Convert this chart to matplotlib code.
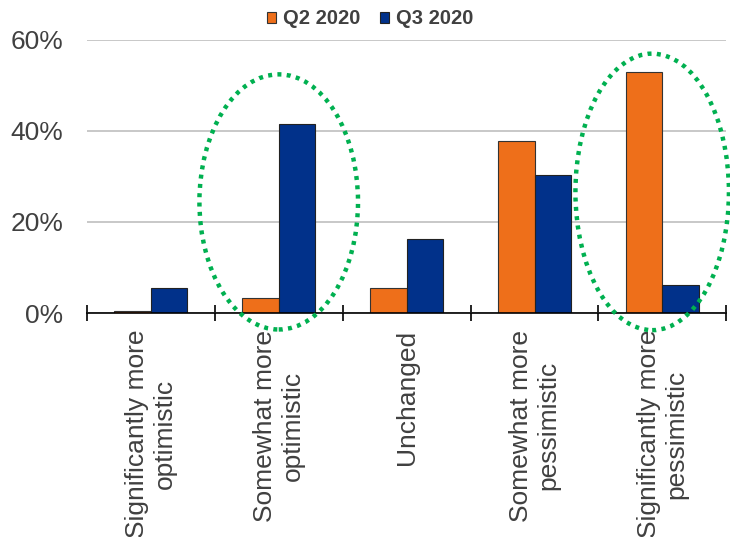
import matplotlib.pyplot as plt
import numpy as np
from matplotlib.patches import Ellipse

plt.rcParams['font.family'] = ['Liberation Sans', 'DejaVu Sans']

categories = ['Significantly more\noptimistic', 'Somewhat more\noptimistic', 'Unchanged',
              'Somewhat more\npessimistic', 'Significantly more\npessimistic']
q2_2020 = [0.5, 3.2, 5.4, 37.7, 53.0]
q3_2020 = [5.6, 41.5, 16.3, 30.3, 6.1]
series_names = ['Q2 2020', 'Q3 2020']
yticks = [0, 20, 40, 60]

orange = '#EE6F1A'
blue = '#01318A'
text_grey = '#404040'

fig = plt.figure(figsize=(7.3, 5.37), dpi=100)
ax = fig.add_axes([0.119, 0.417, 0.876, 0.509])

x = np.arange(len(categories))
w = 0.285
ax.bar(x - w / 2, q2_2020, w, color=orange, edgecolor='#333333', linewidth=0.8, label=series_names[0], zorder=3)
ax.bar(x + w / 2, q3_2020, w, color=blue, edgecolor='#222222', linewidth=0.8, label=series_names[1], zorder=3)

ax.set_xlim(-0.5, len(categories) - 0.5)
ax.set_ylim(0, 60)
ax.set_yticks(yticks)
ax.set_yticklabels([f'{t}%' for t in yticks], fontsize=19, color=text_grey)
ax.tick_params(axis='y', length=0, pad=17)
ax.yaxis.grid(True, color='#BFBFBF', linewidth=1.2, zorder=0)

# category labels at centres, ticks at boundaries
ax.set_xticks(x)
ax.set_xticklabels(categories, rotation=90, fontsize=19, color=text_grey, va='top', ha='center',
                   multialignment='center')
ax.tick_params(axis='x', which='major', length=0, pad=12)
ax.set_xticks(np.arange(-0.5, len(categories)), minor=True)
ax.tick_params(axis='x', which='minor', length=12, direction='inout', width=1.2, color='black')

for s in ['top', 'right', 'left']:
    ax.spines[s].set_visible(False)
ax.spines['bottom'].set_color('black')
ax.spines['bottom'].set_linewidth(1.2)
ax.spines['bottom'].set_zorder(4)

# highlighted groups
for cx, cy, ew, eh in [(1.0, 24.4, 1.24, 56.0), (3.92, 26.6, 1.2, 60.7)]:
    ax.add_patch(Ellipse((cx, cy), ew, eh, fill=False, edgecolor='#00B050', linewidth=3.2,
                         linestyle=(0, (0.9, 1.2)), clip_on=False, zorder=5))

handles, labels = ax.get_legend_handles_labels()
leg = fig.legend(handles, labels, loc='center', bbox_to_anchor=(0.507, 0.965), ncol=2, frameon=False,
                 handlelength=0.45, handleheight=0.45, handletextpad=0.35, columnspacing=1.0,
                 prop={'weight': 'bold', 'size': 14.5})
for t in leg.get_texts():
    t.set_color(text_grey)

fig.savefig('out.png', dpi=100)
